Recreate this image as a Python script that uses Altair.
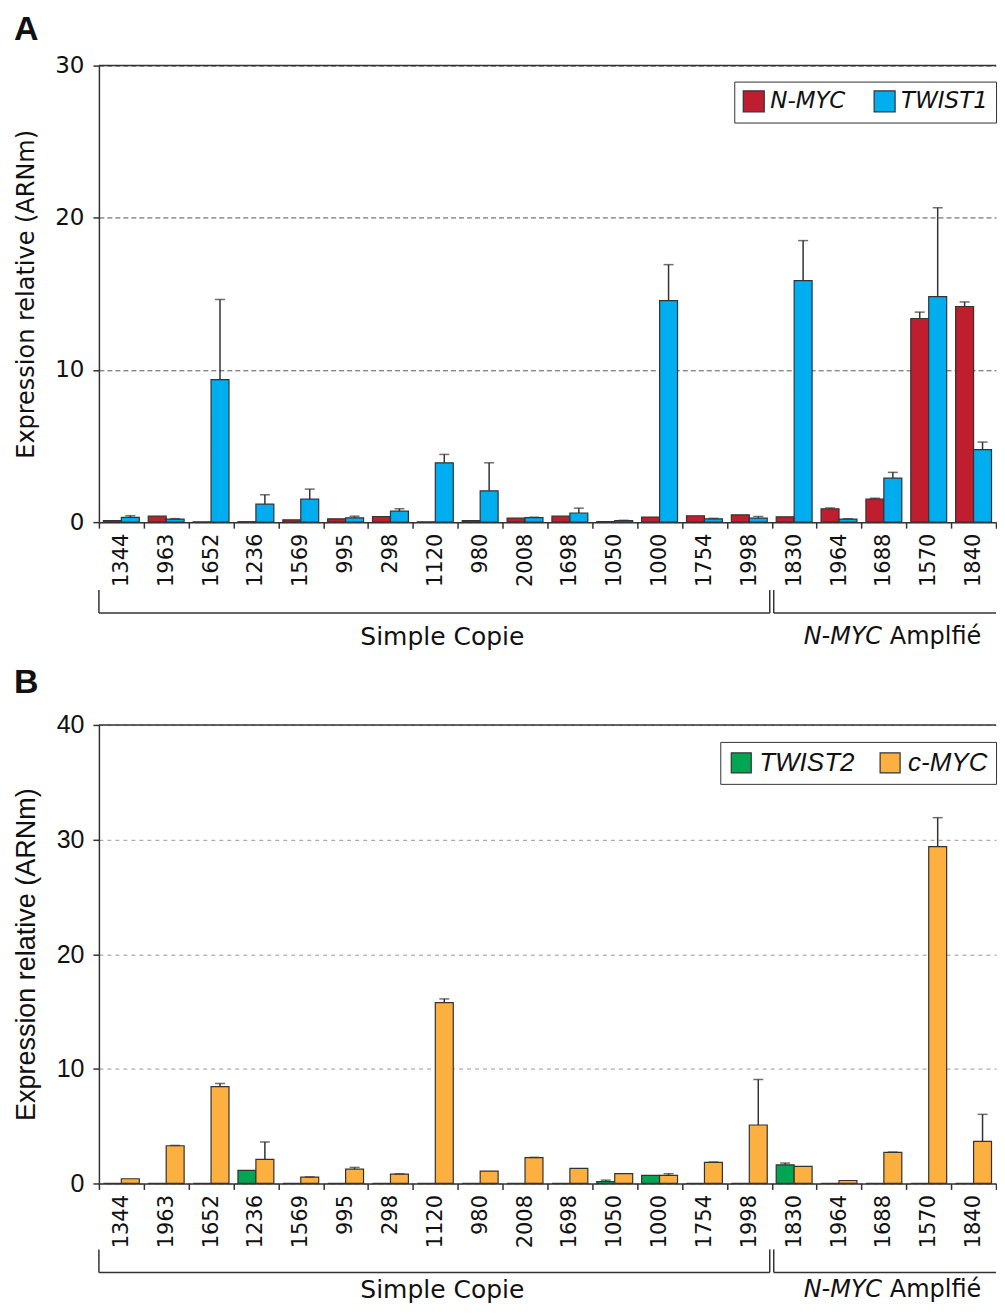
import altair as alt
import pandas as pd

samples = ["1344", "1963", "1652", "1236", "1569", "995", "298", "1120", "980", "2008",
           "1698", "1050", "1000", "1754", "1998", "1830", "1964", "1688", "1570", "1840"]
group_names = ["Simple Copie", "N-MYC Amplfié"]
group_sizes = [15, 5]

# Panel A
nmyc = [0.10, 0.39, 0.02, 0.03, 0.15, 0.22, 0.37, 0.02, 0.10, 0.26,
        0.39, 0.04, 0.33, 0.42, 0.48, 0.35, 0.88, 1.51, 13.38, 14.17]
nmyc_err = [0, 0, 0, 0, 0, 0, 0, 0, 0, 0,
            0, 0, 0, 0, 0, 0, 0.05, 0.06, 0.42, 0.30]
twist1 = [0.31, 0.20, 9.36, 1.18, 1.51, 0.28, 0.72, 3.90, 2.06, 0.30,
          0.60, 0.10, 14.56, 0.22, 0.26, 15.87, 0.20, 2.89, 14.82, 4.76]
twist1_err = [0.11, 0.03, 5.27, 0.62, 0.66, 0.11, 0.16, 0.55, 1.84, 0.02,
              0.32, 0.02, 2.36, 0.03, 0.11, 2.63, 0.02, 0.38, 5.84, 0.50]

# Panel B
twist2 = [0, 0, 0, 1.14, 0, 0, 0, 0, 0, 0,
          0, 0.17, 0.70, 0, 0, 1.63, 0, 0, 0, 0]
twist2_err = [0, 0, 0, 0, 0, 0, 0, 0, 0, 0,
              0, 0.12, 0, 0, 0, 0.15, 0, 0, 0, 0]
cmyc = [0.41, 3.29, 8.45, 2.10, 0.55, 1.25, 0.82, 15.77, 1.08, 2.25,
        1.31, 0.85, 0.70, 1.84, 5.10, 1.49, 0.26, 2.71, 29.38, 3.67]
cmyc_err = [0, 0.03, 0.27, 1.52, 0.02, 0.15, 0.02, 0.33, 0, 0.03,
            0, 0, 0.15, 0.03, 3.97, 0, 0, 0.03, 2.53, 2.36]

W = 898
DARK = "#333333"
CAT_FONT = "DejaVu Sans"


def panel(letter, names, vals, errs, colors, ymax, yvals, H,
          tick_font, tick_size, title_font, title_size,
          leg_font, leg_size, leg_x, leg_y, sym_size, col_pad, grid_color, grid_dash,
          letter_y, br_top, br_bot, lab_y):
    rows = []
    for nm, vv, ee in zip(names, vals, errs):
        for s, v, e in zip(samples, vv, ee):
            rows.append({"sample": s, "series": nm, "value": v,
                         "upper": v + e, "err": e})
    df = pd.DataFrame(rows)
    edf = df[df["err"] > 0]

    xscale = alt.Scale(domain=samples, paddingInner=0, paddingOuter=0)
    oscale = alt.Scale(domain=names, paddingInner=0, paddingOuter=0.25)
    yscale = alt.Scale(domain=[0, ymax], nice=False, zero=True)

    xaxis = alt.Axis(title=None, labelAngle=270, labelFont=CAT_FONT, labelFontSize=21,
                     labelColor="#111111", labelPadding=5, tickBand="extent", tickSize=6,
                     tickColor=DARK, tickWidth=1.5, domainColor=DARK, domainWidth=1.5,
                     labelOverlap=False, grid=False)
    yaxis = alt.Axis(values=yvals, title="Expression relative (ARNm)", titleFont=title_font,
                     titleFontSize=title_size, titleFontWeight="normal", titleColor="#111111",
                     titleAngle=270, titleX=-72, titleY=H / 2, titleAlign="center",
                     titleBaseline="middle", labelFont=tick_font, labelFontSize=tick_size,
                     labelColor="#111111", labelPadding=9, tickSize=6, tickColor=DARK,
                     tickWidth=1.5, domainColor=DARK, domainWidth=1.5, grid=True,
                     gridDash=grid_dash, gridColor=grid_color, gridWidth=1)

    def X(field, bp=None):
        if bp is None:
            return alt.X(field + ":N", scale=xscale, sort=samples, axis=xaxis)
        return alt.X(field + ":N", scale=xscale, sort=samples, axis=xaxis, bandPosition=bp)

    def Y(field):
        return alt.Y(field + ":Q", scale=yscale, axis=yaxis)

    bars = alt.Chart(df).mark_bar(stroke=DARK, strokeWidth=1.2).encode(
        x=X("sample"),
        xOffset=alt.XOffset("series:N", scale=oscale),
        y=Y("value"),
        color=alt.Color("series:N", scale=alt.Scale(domain=names, range=colors),
                        legend=alt.Legend(orient="none", legendX=leg_x, legendY=leg_y,
                                          direction="horizontal", title=None,
                                          symbolType="square", symbolSize=sym_size,
                                          symbolStrokeColor=DARK, symbolStrokeWidth=1.2,
                                          symbolOpacity=1,
                                          labelFont=leg_font, labelFontSize=leg_size,
                                          labelFontStyle="italic", labelColor="#111111",
                                          labelOffset=5, columnPadding=col_pad, padding=8,
                                          strokeColor=DARK, fillColor="white")),
    )

    err_rule = alt.Chart(edf).mark_rule(color=DARK, strokeWidth=1.5).encode(
        x=X("sample"),
        xOffset=alt.XOffset("series:N", scale=oscale),
        y=Y("value"),
        y2=alt.Y2("upper:Q"),
    )
    err_cap = alt.Chart(edf).mark_tick(color=DARK, thickness=1.5, size=10).encode(
        x=X("sample"),
        xOffset=alt.XOffset("series:N", scale=oscale),
        y=Y("upper"),
    )

    one = pd.DataFrame({"a": [0]})
    top = alt.Chart(one).mark_rule(color=DARK, strokeWidth=1.5).encode(
        x=alt.value(0), x2=alt.value(W), y=alt.value(0))

    letter_mark = alt.Chart(one).mark_text(
        text=letter, font="Liberation Sans", fontSize=34, fontWeight="bold",
        align="left", baseline="alphabetic", color="#111111").encode(
        x=alt.value(-85), y=alt.value(letter_y))

    layers = [bars, err_rule, err_cap, top, letter_mark]
    start = 0
    for gi, (gname, gsize) in enumerate(zip(group_names, group_sizes)):
        first = samples[start]
        last = samples[start + gsize - 1]
        mid = samples[start + gsize // 2]
        left_off = 0 if gi == 0 else 2
        is_last = gi == len(group_sizes) - 1
        seg = pd.DataFrame({"sample": [first], "e": [last]})
        layers.append(alt.Chart(seg).mark_rule(
            color=DARK, strokeWidth=1.5, xOffset=left_off,
            x2Offset=(0 if is_last else -2)).encode(
            x=X("sample", 0),
            x2=alt.X2("e", bandPosition=1),
            y=alt.value(H + br_bot)))
        layers.append(alt.Chart(seg).mark_rule(
            color=DARK, strokeWidth=1.5, xOffset=left_off).encode(
            x=X("sample", 0),
            y=alt.value(H + br_top), y2=alt.value(H + br_bot)))
        if not is_last:
            seg2 = pd.DataFrame({"sample": [last]})
            layers.append(alt.Chart(seg2).mark_rule(
                color=DARK, strokeWidth=1.5, xOffset=-2).encode(
                x=X("sample", 1),
                y=alt.value(H + br_top), y2=alt.value(H + br_bot)))
        if gname.startswith("N-MYC "):
            it = pd.DataFrame({"sample": [mid], "t": ["N-MYC"]})
            rest = pd.DataFrame({"sample": [mid], "t": [gname[len("N-MYC "):]]})
            layers.append(alt.Chart(it).mark_text(
                font=CAT_FONT, fontSize=24, fontStyle="italic", align="right",
                baseline="middle", dx=-2, color="#111111").encode(
                x=X("sample", 0.5), y=alt.value(H + lab_y), text="t:N"))
            layers.append(alt.Chart(rest).mark_text(
                font=CAT_FONT, fontSize=24, align="left",
                baseline="middle", dx=6, color="#111111").encode(
                x=X("sample", 0.5), y=alt.value(H + lab_y), text="t:N"))
        else:
            lab = pd.DataFrame({"sample": [mid], "t": [gname]})
            layers.append(alt.Chart(lab).mark_text(
                font=CAT_FONT, fontSize=25, align="center", dx=7,
                baseline="middle", color="#111111").encode(
                x=X("sample", 0.5), y=alt.value(H + lab_y), text="t:N"))
        start += gsize

    return alt.layer(*layers).properties(width=W, height=H)


pA = panel("A", ["N-MYC", "TWIST1"], [nmyc, twist1], [nmyc_err, twist1_err],
           ["#BE1E2D", "#00AEEF"], 30, [0, 10, 20, 30], 457,
           "DejaVu Sans", 23, "DejaVu Sans", 24,
           "DejaVu Sans", 23, 636, 16, 441, 25, "#555555", [5, 3],
           -26, 68, 91, 115)
pB = panel("B", ["TWIST2", "c-MYC"], [twist2, cmyc], [twist2_err, cmyc_err],
           ["#00A651", "#FBB040"], 40, [0, 10, 20, 30, 40], 459,
           "Liberation Sans", 25, "Liberation Sans", 27,
           "Liberation Sans", 26, 622, 17, 400, 22, "#999999", [4, 4],
           -32, 66, 89, 107)

chart = alt.vconcat(pA, pB, spacing=16).resolve_scale(
    color="independent", x="independent", y="independent", xOffset="independent"
).resolve_legend(color="independent").properties(
    padding={"left": 4, "top": 4, "right": 0, "bottom": 0}
).configure_view(stroke=None)

chart.save("out.html", embed_options={"renderer": "svg", "actions": False})
